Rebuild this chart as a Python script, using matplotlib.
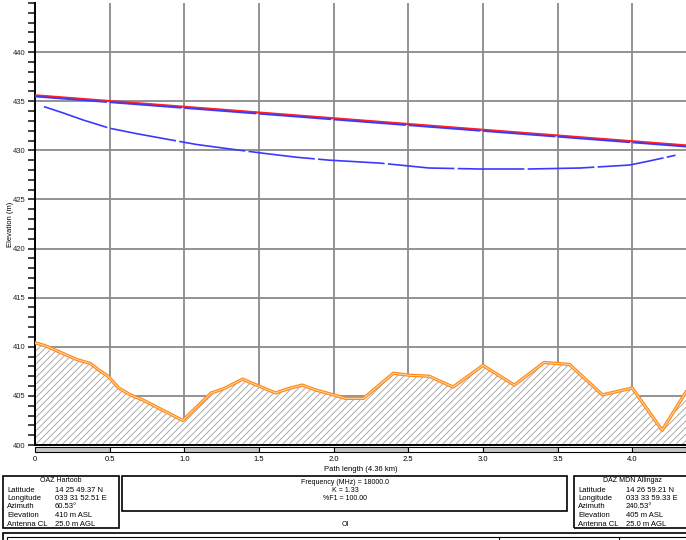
import numpy as np
import matplotlib
matplotlib.use("Agg")
import matplotlib.pyplot as plt
from matplotlib.patches import Rectangle
from matplotlib.lines import Line2D

plt.rcParams['font.family'] = ['Liberation Sans', 'DejaVu Sans']
plt.rcParams['hatch.linewidth'] = 0.6

# path profile (km, m)
ground_x = [0.0, 0.07, 0.19, 0.28, 0.37, 0.43, 0.49, 0.56, 0.64, 0.72, 0.81, 0.90, 0.99,
            1.18, 1.26, 1.39, 1.50, 1.61, 1.71, 1.79, 1.88, 2.00, 2.08, 2.20, 2.40, 2.51,
            2.64, 2.80, 3.00, 3.21, 3.41, 3.58, 3.80, 4.00, 4.20, 4.36]
ground_y = [410.4, 410.1, 409.3, 408.7, 408.3, 407.6, 407.0, 405.8, 405.1, 404.6, 403.9, 403.2, 402.5,
            405.3, 405.7, 406.7, 406.0, 405.3, 405.8, 406.1, 405.6, 405.1, 404.75, 404.75, 407.3, 407.1,
            407.0, 405.9, 408.1, 406.1, 408.4, 408.2, 405.1, 405.8, 401.5, 405.4]

los_x = [0.0, 4.36]
los_y = [435.6, 430.5]

fresnel_x = [0.06, 0.19, 0.32, 0.50, 0.68, 0.86, 1.08, 1.30, 1.53, 1.75, 1.97, 2.31, 2.64,
             2.98, 3.31, 3.65, 3.98, 4.11, 4.29]
fresnel_y = [434.45, 433.8, 433.1, 432.25, 431.7, 431.2, 430.6, 430.15, 429.7, 429.3, 429.0, 428.7, 428.2,
             428.1, 428.1, 428.2, 428.5, 428.9, 429.5]

xticks = [0, 0.5, 1.0, 1.5, 2.0, 2.5, 3.0, 3.5, 4.0]
xtick_labels = ['0', '0.5', '1.0', '1.5', '2.0', '2.5', '3.0', '3.5', '4.0']
yticks = [400, 405, 410, 415, 420, 425, 430, 435, 440]

site_a = ['OAZ Hartoob',
          ['Latitude', '14 25 49.37 N'],
          ['Longitude', '033 31 52.51 E'],
          ['Azimuth', '60.53°'],
          ['Elevation', '410 m ASL'],
          ['Antenna CL', '25.0 m AGL']]
site_b = ['DAZ MDN Allingaz',
          ['Latitude', '14 26 59.21 N'],
          ['Longitude', '033 33 59.33 E'],
          ['Azimuth', '240.53°'],
          ['Elevation', '405 m ASL'],
          ['Antenna CL', '25.0 m AGL']]
link_info = ['Frequency (MHz) = 18000.0', 'K = 1.33', '%F1 = 100.00']

W, H = 686, 540
fig = plt.figure(figsize=(W / 100, H / 100), dpi=100)


def fx(x):
    return x / W


def fy(y):
    return 1 - y / H


ax = fig.add_axes([fx(35), fy(445), fx(651), 442 / H])
ax.set_xlim(0, 4.36)
ax.set_ylim(400, 445)

# terrain
ax.fill_between(ground_x, 400, ground_y, facecolor='white', edgecolor='#a0a0a0',
                hatch='/////', linewidth=0, zorder=2)
ax.plot(ground_x, ground_y, color='#ff8c1a', lw=2.4, zorder=4)
ax.plot(ground_x, ground_y, color='#ffe0c0', lw=0.6, zorder=5)

# line of sight and fresnel
ax.plot(los_x, los_y, color='#ff2020', lw=1.6, zorder=5)
ax.plot(los_x, [v - 0.12 for v in los_y], color='#3a3aff', lw=1.3,
        dashes=(40, 1.5), zorder=6)
ax.plot(fresnel_x, fresnel_y, color='#3a3aff', lw=1.2, dashes=(40, 2), zorder=6)

# grid
ax.set_xticks(xticks)
ax.set_xticklabels(xtick_labels)
ax.set_yticks(yticks)
ax.grid(True, color='#8a8a8a', lw=1.3, zorder=1)
ax.set_axisbelow(True)
ax.set_yticks(np.arange(400, 446, 1), minor=True)
ax.set_xticks(np.arange(0, 4.36, 0.05), minor=True)

for s in ['top', 'right']:
    ax.spines[s].set_visible(False)
ax.spines['left'].set_linewidth(1.4)
ax.spines['bottom'].set_linewidth(1.4)

ax.tick_params(axis='y', which='both', direction='out', length=5, width=1.2,
               labelsize=5.5, pad=2, colors='#222222')
ax.tick_params(axis='x', which='minor', direction='in', length=4, width=1)
ax.tick_params(axis='x', which='major', direction='in', length=4, width=1,
               labelsize=5.5, pad=8)

ax.set_ylabel('Elevation (m)', fontsize=5.5, va='center')
ax.yaxis.set_label_coords(-0.037, 0.5)
ax.set_xlabel('Path length (4.36 km)', fontsize=5.5, labelpad=2)

# scale strip under the axis
for i in range(9):
    x0 = i * 0.5
    w = min(0.5, 4.36 - x0)
    fc = '#c8c8c8' if i % 2 == 0 else 'white'
    ax.add_patch(Rectangle((x0, 399.75), w, -0.5, facecolor=fc, edgecolor='black',
                           lw=0.8, clip_on=False, zorder=3))


def box(x0, y0, x1, y1, lw=1.2):
    fig.add_artist(Rectangle((fx(x0), fy(y1)), fx(x1 - x0), (y1 - y0) / H,
                             facecolor='none', edgecolor='black', lw=lw,
                             transform=fig.transFigure))


def site_box(x0, x1, info):
    box(x0, 476, x1, 528)
    fig.text(fx((x0 + x1) / 2), fy(481), info[0], fontsize=5, ha='center', va='center')
    for k, (name, val) in enumerate(info[1:]):
        yy = fy(490 + k * 8.5)
        fig.text(fx(x0 + 4), yy, name, fontsize=5.5, va='center')
        fig.text(fx(x0 + 52), yy, val, fontsize=5.5, va='center')


site_box(3, 119, site_a)
site_box(574, 690, site_b)

box(122, 476, 567, 511)
for k, t in enumerate(link_info):
    fig.text(fx(345), fy(483 + k * 7.5), t, fontsize=5, ha='center', va='center')
fig.text(fx(345), fy(525), 'OI', fontsize=5, ha='center', va='center')

box(3, 533, 690, 548)
box(7, 537, 690, 548, lw=0.8)
for xv in [499, 619]:
    fig.add_artist(Line2D([fx(xv), fx(xv)], [fy(537), 0], color='black', lw=0.8,
                          transform=fig.transFigure))

fig.savefig('out.png', dpi=100)
